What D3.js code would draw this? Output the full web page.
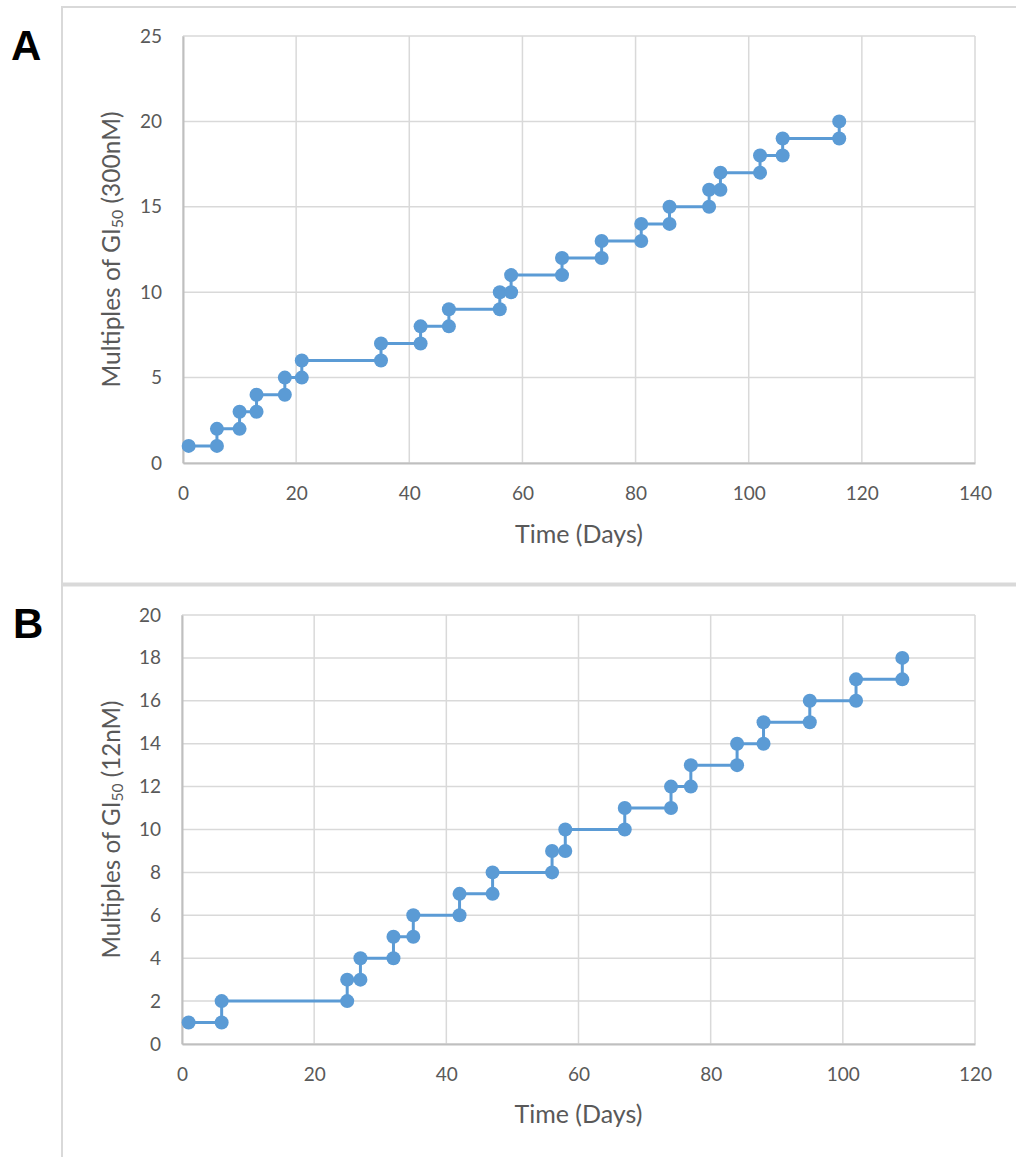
<!DOCTYPE html>
<html>
<head>
<meta charset="utf-8">
<script src="https://cdn.jsdelivr.net/npm/d3@7"></script>
<style>
  body { margin:0; background:#fff; }
  svg { display:block; }
  .tick text { font-family: Lato, "Open Sans", sans-serif; fill:#595959; }
</style>
</head>
<body>
<div id="chart"></div>
<script>
// panel A : 300nM
var daysA = [1,6,6,10,10,13,13,18,18,21,21,35,35,42,42,47,47,56,56,58,58,67,67,74,74,81,81,86,86,93,93,95,95,102,102,106,106,116,116];
var multA = [1,1,2,2,3,3,4,4,5,5,6,6,7,7,8,8,9,9,10,10,11,11,12,12,13,13,14,14,15,15,16,16,17,17,18,18,19,19,20];
var xTicksA = [0,20,40,60,80,100,120,140];
var yTicksA = [0,5,10,15,20,25];

// panel B : 12nM
var daysB = [1,6,6,25,25,27,27,32,32,35,35,42,42,47,47,56,56,58,58,67,67,74,74,77,77,84,84,88,88,95,95,102,102,109,109];
var multB = [1,1,2,2,3,3,4,4,5,5,6,6,7,7,8,8,9,9,10,10,11,11,12,12,13,13,14,14,15,15,16,16,17,17,18];
var xTicksB = [0,20,40,60,80,100,120];
var yTicksB = [0,2,4,6,8,10,12,14,16,18,20];

var blue = "#5b9bd5",
    grid = "#d9d9d9",
    axisCol = "#bfbfbf",
    txt = "#595959";

var svg = d3.select("#chart").append("svg")
  .attr("width", 1016).attr("height", 1157);

// cadre autour des deux panneaux
svg.append("line").attr("x1",62).attr("x2",1016).attr("y1",7).attr("y2",7)
  .style("stroke",grid).style("stroke-width",2);
svg.append("line").attr("x1",62).attr("x2",62).attr("y1",6).attr("y2",1157)
  .style("stroke",grid).style("stroke-width",2);
svg.append("line").attr("x1",62).attr("x2",1016).attr("y1",584.5).attr("y2",584.5)
  .style("stroke",grid).style("stroke-width",4);

function fitWidth(sel, target) {
  // ajuste la taille de police pour obtenir la largeur voulue
  var w = sel.node().getComputedTextLength();
  var fs = parseFloat(sel.style("font-size"));
  var k = target / w;
  sel.style("font-size", (fs*k)+"px");
  sel.selectAll("tspan").each(function() {
    var t = d3.select(this);
    if (t.attr("data-fs")) t.style("font-size", (+t.attr("data-fs")*k)+"px");
  });
}

function panel(options) {
  var x = d3.scaleLinear().domain(options.xDomain).range([options.left, options.right]),
      y = d3.scaleLinear().domain(options.yDomain).range([options.bottom, options.top]);
  var g = svg.append("g");

  // grille
  g.append("g").selectAll("line").data(options.yTicks).join("line")
    .attr("x1", options.left).attr("x2", options.right)
    .attr("y1", d=>y(d)).attr("y2", d=>y(d))
    .style("stroke", grid).style("stroke-width", 1.5);
  g.append("g").selectAll("line").data(options.xTicks).join("line")
    .attr("y1", options.top).attr("y2", options.bottom)
    .attr("x1", d=>x(d)).attr("x2", d=>x(d))
    .style("stroke", grid).style("stroke-width", 1.5);

  // axes
  var xa = g.append("g").attr("transform","translate(0,"+options.bottom+")")
    .call(d3.axisBottom(x).tickValues(options.xTicks).tickSize(0).tickPadding(options.xPad));
  var ya = g.append("g").attr("transform","translate("+options.left+",0)")
    .call(d3.axisLeft(y).tickValues(options.yTicks).tickSize(0).tickPadding(21));
  xa.selectAll("text").style("font-size","19px");
  ya.selectAll("text").style("font-size","19px");
  xa.select(".domain").style("stroke", axisCol).style("stroke-width", 2);
  ya.select(".domain").style("stroke", axisCol).style("stroke-width", 2);

  // serie en escalier
  var pts = options.days.map((d,i)=>[d, options.mult[i]]);
  g.append("path").datum(pts)
    .attr("d", d3.line().x(d=>x(d[0])).y(d=>y(d[1])))
    .style("fill","none").style("stroke",blue).style("stroke-width",3);
  g.append("g").selectAll("circle").data(pts).join("circle")
    .attr("cx", d=>x(d[0])).attr("cy", d=>y(d[1])).attr("r", 7)
    .style("fill", blue);

  // titres
  var cy = (options.top+options.bottom)/2;
  var yt = g.append("text")
    .attr("transform","translate(120,"+cy+") rotate(-90)")
    .attr("text-anchor","middle")
    .style("font-family","Lato, 'Open Sans', sans-serif").style("font-size","20px").style("fill",txt);
  yt.append("tspan").text("Multiples of GI");
  yt.append("tspan").attr("dy",3).attr("data-fs",13).style("font-size","13px").text("50");
  yt.append("tspan").attr("dy",-3).text(" " + options.unit);
  fitWidth(yt, options.yTitleW);

  var xt = g.append("text")
    .attr("x",(options.left+options.right)/2).attr("y",options.bottom+options.titleDy)
    .attr("text-anchor","middle")
    .style("font-family","Lato, 'Open Sans', sans-serif").style("font-size","22px").style("fill",txt)
    .text("Time (Days)");
  fitWidth(xt, 128);

  svg.append("text").attr("x",options.letterX).attr("y",options.letterY)
    .style("font-family","'Liberation Sans', Arial, sans-serif").style("font-weight","bold")
    .style("font-size","42px").style("fill","#000")
    .text(options.letter);
}

panel({days:daysA, mult:multA, xTicks:xTicksA, yTicks:yTicksA,
  xDomain:[0,140], yDomain:[0,25],
  left:183, right:975, top:36, bottom:463, xPad:24, titleDy:80,
  unit:"(300nM)", yTitleW:276, letter:"A", letterX:11, letterY:60});

panel({days:daysB, mult:multB, xTicks:xTicksB, yTicks:yTicksB,
  xDomain:[0,120], yDomain:[0,20],
  left:182, right:975, top:615, bottom:1044, xPad:24, titleDy:79,
  unit:"(12nM)", yTitleW:258, letter:"B", letterX:13, letterY:638});
</script>
</body>
</html>
